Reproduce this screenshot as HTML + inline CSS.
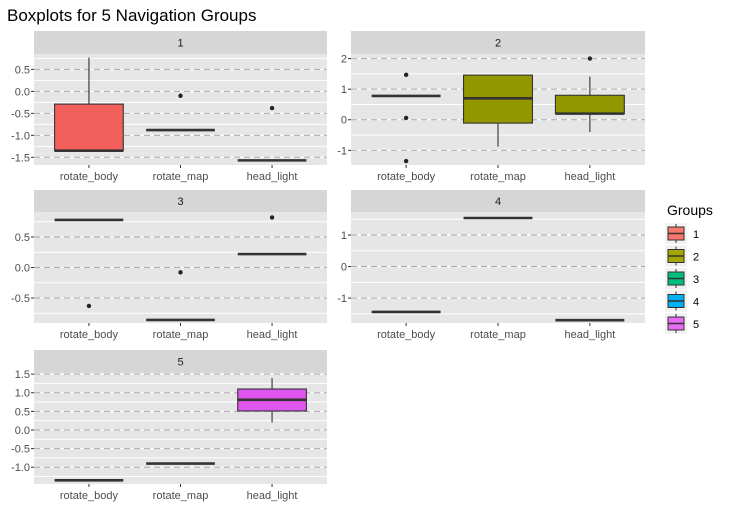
<!DOCTYPE html>
<html><head><meta charset="utf-8"><style>
body{margin:0;background:#fff;}
svg{display:block;font-family:"Liberation Sans",sans-serif;}
</style></head><body>
<svg id="c" width="730" height="510"></svg>
<script>
const categories = ["rotate_body","rotate_map","head_light"];
const groups = ["1","2","3","4","5"];
const colors = ["#F35F5B","#929700","#00BF7D","#00B0F6","#E055EE"];
const legendColors = ["#F8766D","#A3A500","#00BF7D","#00B0F6","#E76BF3"];
// per group: [lower whisker, q1, median, q3, upper whisker] per category
const stats1 = [[-1.35,-1.35,-1.35,-0.29,0.77],[-0.88,-0.88,-0.88,-0.88,-0.88],[-1.57,-1.57,-1.57,-1.57,-1.57]];
const stats2 = [[0.78,0.78,0.78,0.78,0.78],[-0.88,-0.11,0.70,1.46,1.46],[-0.40,0.20,0.20,0.80,1.41]];
const stats3 = [[0.78,0.78,0.78,0.78,0.78],[-0.86,-0.86,-0.86,-0.86,-0.86],[0.22,0.22,0.22,0.22,0.22]];
const stats4 = [[-1.44,-1.44,-1.44,-1.44,-1.44],[1.54,1.54,1.54,1.54,1.54],[-1.70,-1.70,-1.70,-1.70,-1.70]];
const stats5 = [[-1.35,-1.35,-1.35,-1.35,-1.35],[-0.90,-0.90,-0.90,-0.90,-0.90],[0.20,0.51,0.81,1.10,1.39]];
const outliers1 = [[],[-0.1],[-0.38]];
const outliers2 = [[1.47,0.06,-1.35],[],[2.0]];
const outliers3 = [[-0.63],[-0.08],[0.82]];
const outliers4 = [[],[],[]];
const outliers5 = [[],[],[]];
const ticks1 = [0.5,0.0,-0.5,-1.0,-1.5];
const ticks2 = [2,1,0,-1];
const ticks3 = [0.5,0.0,-0.5];
const ticks4 = [1,0,-1];
const ticks5 = [1.5,1.0,0.5,0.0,-0.5,-1.0];
const tickLabels1 = ["0.5","0.0","-0.5","-1.0","-1.5"];
const tickLabels2 = ["2","1","0","-1"];
const tickLabels3 = ["0.5","0.0","-0.5"];
const tickLabels4 = ["1","0","-1"];
const tickLabels5 = ["1.5","1.0","0.5","0.0","-0.5","-1.0"];
const ranges = [[-1.675,0.85],[-1.48,2.15],[-0.91,0.91],[-1.79,1.73],[-1.45,1.53]];

const allStats=[stats1,stats2,stats3,stats4,stats5];
const allOut=[outliers1,outliers2,outliers3,outliers4,outliers5];
const allTicks=[ticks1,ticks2,ticks3,ticks4,ticks5];
const allTL=[tickLabels1,tickLabels2,tickLabels3,tickLabels4,tickLabels5];
const layout=[[34,327,31,54,165],[351,645,31,54,165],[34,327,190,212,323],[351,645,190,212,323],[34,327,350,373,484]];
const svg=document.getElementById('c');
const NS="http://www.w3.org/2000/svg";
function el(t,a,p){const e=document.createElementNS(NS,t);for(const k in a)e.setAttribute(k,a[k]);(p||svg).appendChild(e);return e;}
const title=el('text',{x:7,y:21,'font-size':17,fill:'#000'});
title.textContent="Boxplots for 5 Navigation Groups";



groups.forEach((g,gi)=>{
  const [x0,x1,sy,y0,y1]=layout[gi];
  const [lo,hi]=ranges[gi];
  const yS=v=>y1-(v-lo)/(hi-lo)*(y1-y0);
  const W=x1-x0;
  const xS=i=>x0+(i+0.6)/3.2*W;
  const hw=0.375/3.2*W;
  const grp=el('g',{});
  
  
  const strip=el('rect',{x:x0,y:sy,width:W,height:y0-sy,fill:'#d6d6d6'},grp);
  
  
  const st=el('text',{x:(x0+x1)/2,y:(sy+y0)/2+4,'font-size':11,'text-anchor':'middle',fill:'#1a1a1a'},grp);
  st.textContent=g;
  
  
  el('rect',{x:x0,y:y0,width:W,height:y1-y0,fill:'#e6e6e6'},grp);
  const tk=allTicks[gi];
  const step=Math.abs(tk[0]-tk[1]);
  for(let v=tk[tk.length-1]-step*1.5;v<=hi+step;v+=step){
    if(v>lo&&v<hi) el('line',{x1:x0,x2:x1,y1:yS(v),y2:yS(v),stroke:'#fff','stroke-width':1},grp);
  }
  tk.forEach((v,ti)=>{
    el('line',{x1:x0,x2:x1,y1:yS(v),y2:yS(v),stroke:'#fff','stroke-width':1.1},grp);
    el('line',{x1:x0,x2:x1,y1:yS(v),y2:yS(v),stroke:'#aaa','stroke-width':1,'stroke-dasharray':'6,4'},grp);
    const t=el('text',{x:x0-4,y:yS(v)+4,'font-size':11,'text-anchor':'end',fill:'#4d4d4d'},grp);
    t.textContent=allTL[gi][ti];
    
    
    el('line',{x1:x0-3,x2:x0,y1:yS(v),y2:yS(v),stroke:'#333','stroke-width':1},grp);
  });
  categories.forEach((c,i)=>{
    const s=allStats[gi][i];const cx=xS(i);
    const b=el('g',{},grp);
    
    
    el('line',{x1:cx,x2:cx,y1:yS(s[0]),y2:yS(s[1]),stroke:'#333','stroke-width':1.1},b);
    el('line',{x1:cx,x2:cx,y1:yS(s[3]),y2:yS(s[4]),stroke:'#333','stroke-width':1.1},b);
    el('rect',{x:cx-hw,y:yS(s[3]),width:hw*2,height:Math.max(0,yS(s[1])-yS(s[3])),fill:colors[gi],stroke:'#333','stroke-width':1.1},b);
    el('line',{x1:cx-hw,x2:cx+hw,y1:yS(s[2]),y2:yS(s[2]),stroke:'#333','stroke-width':2.6},b);
    allOut[gi][i].forEach(o=>{
      const p=el('circle',{cx:cx,cy:yS(o),r:2.2,fill:'#222'},b);
      
      
    });
    el('line',{x1:cx,x2:cx,y1:y1,y2:y1+3,stroke:'#333','stroke-width':1},grp);
    const xl=el('text',{x:cx,y:y1+15,'font-size':11,'text-anchor':'middle',fill:'#4d4d4d'},grp);
    xl.textContent=c;
    
    
  });
});
const lg=el('g',{});


const lt=el('text',{x:667,y:215,'font-size':14,fill:'#000'},lg);
lt.textContent="Groups";


groups.forEach((g,i)=>{
  const y=223+i*22.5;
  const e=el('g',{},lg);
  
  
  el('rect',{x:665,y:y,width:22,height:21,fill:'#f2f2f2'},e);
  el('line',{x1:676,x2:676,y1:y+1,y2:y+20,stroke:'#333','stroke-width':1},e);
  el('rect',{x:668,y:y+4,width:16,height:13,fill:legendColors[i],stroke:'#333','stroke-width':1},e);
  el('line',{x1:668,x2:684,y1:y+10.5,y2:y+10.5,stroke:'#333','stroke-width':1.5},e);
  const t=el('text',{x:693,y:y+15,'font-size':11,fill:'#000'},e);
  t.textContent=g;
});
</script>
</body></html>
